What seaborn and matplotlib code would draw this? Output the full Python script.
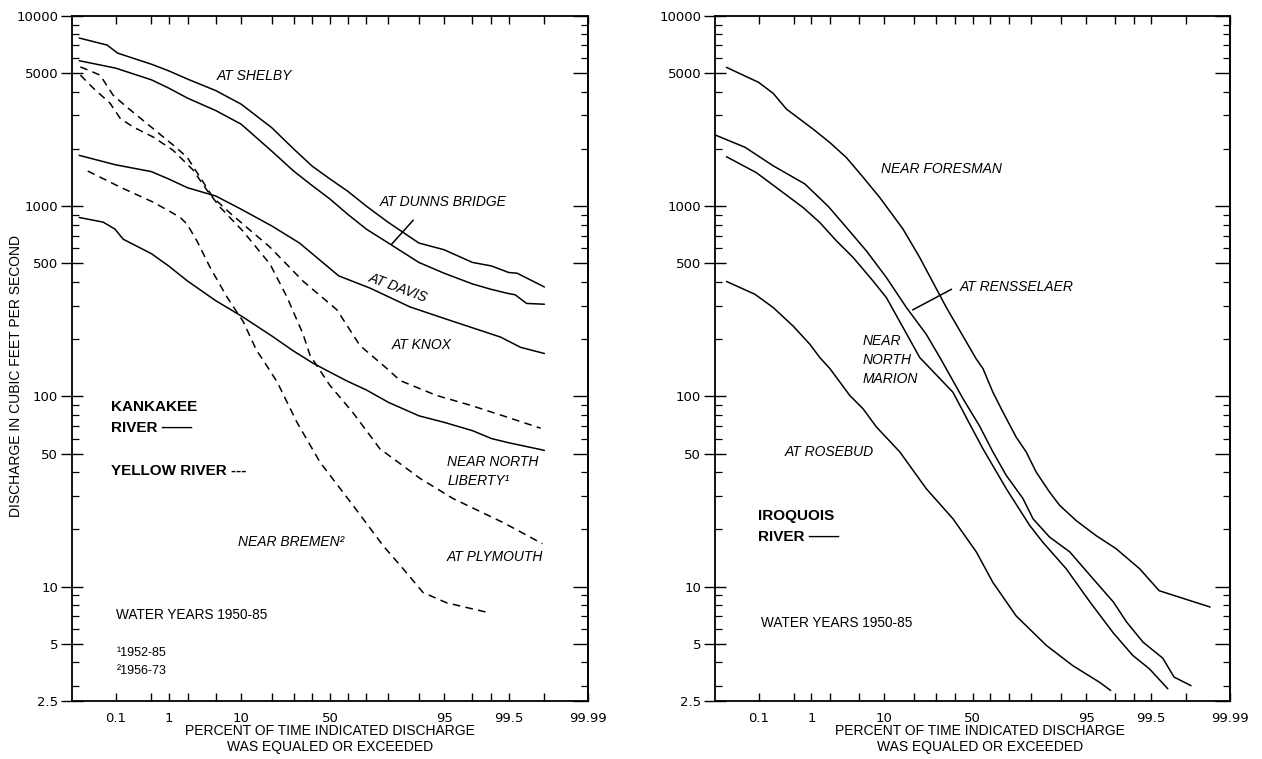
import numpy as np
import pandas as pd
import matplotlib
matplotlib.use("Agg")
import matplotlib.pyplot as plt
import seaborn as sns
from matplotlib.ticker import FixedLocator, FixedFormatter, LogLocator, NullFormatter
from statistics import NormalDist

# --- Kankakee River (solid) ---
shelby_pct = [0.015, 0.066, 0.11, 0.5, 1, 2, 5, 10, 20, 30, 40, 50, 60, 70, 80, 90, 95, 98, 99, 99.5, 99.65, 99.9]
shelby_q = [7660, 7030, 6380, 5580, 5150, 4660, 4050, 3440, 2590, 2000, 1620, 1390, 1200, 1000, 821, 640, 590, 506, 485, 448, 444, 376]

dunns_pct = [0.015, 0.1, 0.5, 1, 2, 5, 10, 20, 30, 40, 50, 60, 70, 80, 90, 95, 98, 99, 99.5, 99.62, 99.77, 99.9]
dunns_q = [5820, 5320, 4620, 4180, 3700, 3180, 2700, 1950, 1530, 1280, 1090, 908, 757, 640, 506, 444, 390, 365, 347, 342, 308, 305]

davis_pct = [0.015, 0.1, 0.5, 1, 2, 5, 10, 20, 33, 55, 72, 87.6, 95.8, 99.3, 99.7, 99.9]
davis_q = [1850, 1650, 1520, 1390, 1250, 1130, 964, 788, 640, 430, 370, 295, 251, 205, 181, 168]

liberty_pct = [0.015, 0.054, 0.097, 0.144, 0.5, 1, 2, 5, 10, 20, 30, 40, 50, 60, 70, 80, 90, 95, 98, 99, 99.5, 99.9]
liberty_q = [872, 824, 757, 670, 563, 485, 404, 318, 265, 208, 173, 150, 134, 120, 108, 93, 79, 73, 66, 60, 57, 52]

# --- Yellow River (dashed) ---
knox_pct = [0.016, 0.046, 0.088, 0.17, 1.18, 1.97, 3.05, 4.6, 7.5, 19.4, 34.9, 54, 66.7, 79.4, 84.4, 93.8, 97.8, 99.37, 99.88]
knox_q = [5400, 4890, 3840, 3320, 2100, 1810, 1420, 1110, 919, 608, 403, 285, 185, 140, 121, 101, 90, 79, 68]

plymouth_pct = [0.016, 0.032, 0.076, 0.124, 0.226, 0.54, 1.18, 2.42, 3.82, 5.65, 10.5, 19.4, 26.8, 34.9, 38.7, 50, 63, 76.4, 90.3, 96.2, 99.37, 99.89]
plymouth_q = [4890, 4180, 3480, 2900, 2610, 2310, 1970, 1550, 1210, 988, 738, 495, 332, 212, 164, 114, 82, 53, 37, 29, 21.7, 16.8]

bremen_pct = [0.024, 0.124, 0.54, 1.53, 1.97, 2.77, 4.19, 6.9, 10.5, 14.6, 16.4, 22.3, 31.7, 44.3, 63, 77.8, 85.4, 91, 95.4, 98.86]
bremen_q = [1530, 1260, 1050, 875, 804, 654, 477, 332, 248, 173, 158, 119, 73, 45, 26.7, 16.4, 12.4, 9.3, 8.2, 7.3]

# --- Iroquois River ---
foresman_pct = [0.019, 0.1, 0.2, 0.36, 1.07, 1.97, 3.43, 5.7, 9.03, 15.8, 22.3, 35.3, 52.2, 56, 61.6, 67, 73.6, 78.1, 82.1, 86.7, 89.6, 93.3, 96.3, 98.1, 99.21, 99.65, 99.97]
foresman_q = [5370, 4480, 3920, 3240, 2540, 2160, 1800, 1420, 1110, 757, 537, 293, 157, 140, 105, 82.6, 61, 51, 40, 31.4, 26.7, 22.2, 18.5, 15.8, 12.4, 9.5, 7.8]

rensselaer_pct = [0.01, 0.051, 0.2, 0.77, 1.85, 3.43, 6.27, 10.7, 17, 25.2, 31.9, 44.6, 54, 61.6, 68.7, 76.7, 80.9, 86.7, 92, 95.9, 97.9, 98.7, 99.31, 99.7, 99.82, 99.92]
rensselaer_q = [2370, 2040, 1630, 1310, 1000, 773, 582, 421, 293, 212, 160, 97, 70, 51, 38.4, 29, 22.7, 18.2, 15.2, 11, 8.3, 6.5, 5.1, 4.2, 3.34, 3.01]

marion_pct = [0.019, 0.09, 0.31, 0.72, 1.37, 2.47, 4.24, 7.55, 10.7, 15.8, 22.3, 38.9, 49.3, 56, 68.7, 79.5, 84.5, 91.2, 95.5, 97.9, 98.97, 99.47, 99.76]
marion_q = [1820, 1500, 1180, 984, 821, 657, 537, 404, 330, 230, 160, 105, 69, 53, 32.7, 21, 17.1, 12.4, 8.3, 5.7, 4.34, 3.69, 2.9]

rosebud_pct = [0.019, 0.084, 0.2, 0.48, 0.94, 1.37, 1.97, 3.82, 5.7, 8.26, 14.7, 25.2, 38.9, 52.2, 61.6, 73.6, 85.7, 92.6, 96.7, 97.7]
rosebud_q = [402, 344, 293, 234, 188, 160, 140, 101, 86, 69, 51, 32.7, 22.7, 15.2, 10.5, 7.0, 4.9, 3.84, 3.13, 2.84]

# axes ticks
x_ticks = [0.1, 1, 10, 50, 95, 99.5, 99.99]
x_tick_labels = ["0.1", "1", "10", "50", "95", "99.5", "99.99"]
x_minor = [0.5, 2, 5, 20, 30, 40, 60, 70, 80, 90, 98, 99, 99.9]
y_ticks = [2.5, 5, 10, 50, 100, 500, 1000, 5000, 10000]
y_tick_labels = ["2.5", "5", "10", "50", "100", "500", "1000", "5000", "10000"]


def frame(river, station, pct, q):
    return pd.DataFrame({"pct": pct, "q": q, "river": river, "station": station})


left = pd.concat([
    frame("Kankakee", "shelby", shelby_pct, shelby_q),
    frame("Kankakee", "dunns", dunns_pct, dunns_q),
    frame("Kankakee", "davis", davis_pct, davis_q),
    frame("Kankakee", "liberty", liberty_pct, liberty_q),
    frame("Yellow", "knox", knox_pct, knox_q),
    frame("Yellow", "plymouth", plymouth_pct, plymouth_q),
    frame("Yellow", "bremen", bremen_pct, bremen_q),
])
right = pd.concat([
    frame("Iroquois", "foresman", foresman_pct, foresman_q),
    frame("Iroquois", "rensselaer", rensselaer_pct, rensselaer_q),
    frame("Iroquois", "marion", marion_pct, marion_q),
    frame("Iroquois", "rosebud", rosebud_pct, rosebud_q),
])

sns.set_style("ticks")
plt.rcParams["font.family"] = ["Liberation Sans", "DejaVu Sans"]
plt.rcParams["text.color"] = "black"
plt.rcParams["axes.labelcolor"] = "black"
plt.rcParams["xtick.color"] = "black"
plt.rcParams["ytick.color"] = "black"

nd = NormalDist()


# normal probability scale for percent
def to_z(p):
    p = np.clip(np.asarray(p, dtype=float), 1e-7, 100 - 1e-7)
    return np.vectorize(lambda v: nd.inv_cdf(v / 100.0), otypes=[float])(p)


def from_z(z):
    return np.vectorize(lambda v: nd.cdf(v) * 100.0, otypes=[float])(np.asarray(z, dtype=float))


fig = plt.figure(figsize=(12.62, 7.59), dpi=100)
ax1 = fig.add_axes([72 / 1262, 1 - 701 / 759, 516 / 1262, 685 / 759])
ax2 = fig.add_axes([715 / 1262, 1 - 701 / 759, 515 / 1262, 685 / 759])

sns.lineplot(data=left, x="pct", y="q", units="station", estimator=None, style="river",
             dashes={"Kankakee": "", "Yellow": (5, 3.5)}, color="black", linewidth=1.1,
             legend=False, ax=ax1)
sns.lineplot(data=right, x="pct", y="q", units="station", estimator=None,
             color="black", linewidth=1.1, legend=False, ax=ax2)

for ax in (ax1, ax2):
    ax.set_xscale("function", functions=(to_z, from_z))
    ax.set_yscale("log")
    ax.set_xlim(0.01, 99.99)
    ax.set_ylim(2.5, 10000)
    ax.xaxis.set_major_locator(FixedLocator(x_ticks))
    ax.xaxis.set_major_formatter(FixedFormatter(x_tick_labels))
    ax.xaxis.set_minor_locator(FixedLocator(x_minor))
    ax.xaxis.set_minor_formatter(NullFormatter())
    ax.yaxis.set_major_locator(FixedLocator(y_ticks))
    ax.yaxis.set_major_formatter(FixedFormatter(y_tick_labels))
    ax.yaxis.set_minor_locator(LogLocator(base=10, subs=np.arange(2, 10) * 1.0, numticks=20))
    ax.yaxis.set_minor_formatter(NullFormatter())
    ax.tick_params(axis="x", which="both", direction="in", top=True, bottom=True,
                   length=6, width=1, pad=8)
    ax.tick_params(axis="y", which="major", direction="inout", left=True, right=False,
                   length=16, width=1, pad=2)
    ax.tick_params(axis="y", which="minor", direction="in", left=True, right=False,
                   length=5, width=0.9)
    for lab in ax.get_xticklabels() + ax.get_yticklabels():
        lab.set_fontfamily(["DejaVu Sans"])
        lab.set_fontsize(9.5)
    for s in ax.spines.values():
        s.set_linewidth(1.3)
        s.set_color("black")

    # right-hand ticks point inward only
    sec = ax.secondary_yaxis("right")
    sec.yaxis.set_major_locator(FixedLocator(y_ticks))
    sec.yaxis.set_minor_locator(LogLocator(base=10, subs=np.arange(2, 10) * 1.0, numticks=20))
    sec.yaxis.set_minor_formatter(NullFormatter())
    sec.tick_params(which="major", direction="in", length=11, width=1, labelright=False)
    sec.tick_params(which="minor", direction="in", length=5, width=0.9)
    sec.spines["right"].set_linewidth(1.3)

    ax.set_xlabel("PERCENT OF TIME INDICATED DISCHARGE\nWAS EQUALED OR EXCEEDED",
                  fontsize=10, linespacing=1.15)
    ax.xaxis.set_label_coords(0.5, -0.034)
    ax.set_ylabel("")

ax1.set_ylabel("DISCHARGE IN CUBIC FEET PER SECOND", fontsize=10)
ax1.yaxis.set_label_coords(-0.094, 0.474)
ax2.xaxis.set_label_coords(0.515, -0.034)

# left panel annotations
it = dict(fontsize=10, fontstyle="italic", transform=ax1.transAxes)
ax1.text(0.353, 0.912, "AT SHELBY", ha="center", va="center", **it)
ax1.text(0.719, 0.728, "AT DUNNS BRIDGE", ha="center", va="center", **it)
ax1.annotate("", xy=(0.616, 0.664), xytext=(0.665, 0.705), xycoords="axes fraction",
             arrowprops=dict(arrowstyle="-", color="black", lw=1.1))
ax1.text(0.632, 0.603, "AT DAVIS", ha="center", va="center", rotation=-20, **it)
ax1.text(0.678, 0.520, "AT KNOX", ha="center", va="center", **it)
ax1.text(0.727, 0.349, "NEAR NORTH", ha="left", va="center", **it)
ax1.text(0.727, 0.321, "LIBERTY\u00b9", ha="left", va="center", **it)
ax1.text(0.727, 0.210, "AT PLYMOUTH", ha="left", va="center", **it)
ax1.text(0.322, 0.232, "NEAR BREMEN\u00b2", ha="left", va="center", **it)

bd = dict(fontsize=11, fontweight="bold", ha="left", va="center", transform=ax1.transAxes)
ax1.text(0.075, 0.429, "KANKAKEE", **bd)
ax1.text(0.075, 0.399, "RIVER \u2014\u2014", **bd)
ax1.text(0.075, 0.336, "YELLOW RIVER ---", **bd)
ax1.text(0.085, 0.125, "WATER YEARS 1950-85", fontsize=9.8, ha="left", va="center",
         transform=ax1.transAxes)
ax1.text(0.087, 0.070, "\u00b91952-85", fontsize=9, ha="left", va="center", transform=ax1.transAxes)
ax1.text(0.087, 0.044, "\u00b21956-73", fontsize=9, ha="left", va="center", transform=ax1.transAxes)

# right panel annotations
it2 = dict(fontsize=10, fontstyle="italic", transform=ax2.transAxes)
ax2.text(0.439, 0.777, "NEAR FORESMAN", ha="center", va="center", **it2)
ax2.text(0.476, 0.604, "AT RENSSELAER", ha="left", va="center", **it2)
ax2.annotate("", xy=(0.379, 0.569), xytext=(0.464, 0.603), xycoords="axes fraction",
             arrowprops=dict(arrowstyle="-", color="black", lw=1.1))
ax2.text(0.287, 0.526, "NEAR", ha="left", va="center", **it2)
ax2.text(0.287, 0.498, "NORTH", ha="left", va="center", **it2)
ax2.text(0.287, 0.470, "MARION", ha="left", va="center", **it2)
ax2.text(0.136, 0.364, "AT ROSEBUD", ha="left", va="center", **it2)
ax2.text(0.083, 0.270, "IROQUOIS", fontsize=11, fontweight="bold", ha="left", va="center",
         transform=ax2.transAxes)
ax2.text(0.083, 0.239, "RIVER \u2014\u2014", fontsize=11, fontweight="bold", ha="left", va="center",
         transform=ax2.transAxes)
ax2.text(0.089, 0.114, "WATER YEARS 1950-85", fontsize=9.8, ha="left", va="center",
         transform=ax2.transAxes)

fig.savefig("out.png", dpi=100)
